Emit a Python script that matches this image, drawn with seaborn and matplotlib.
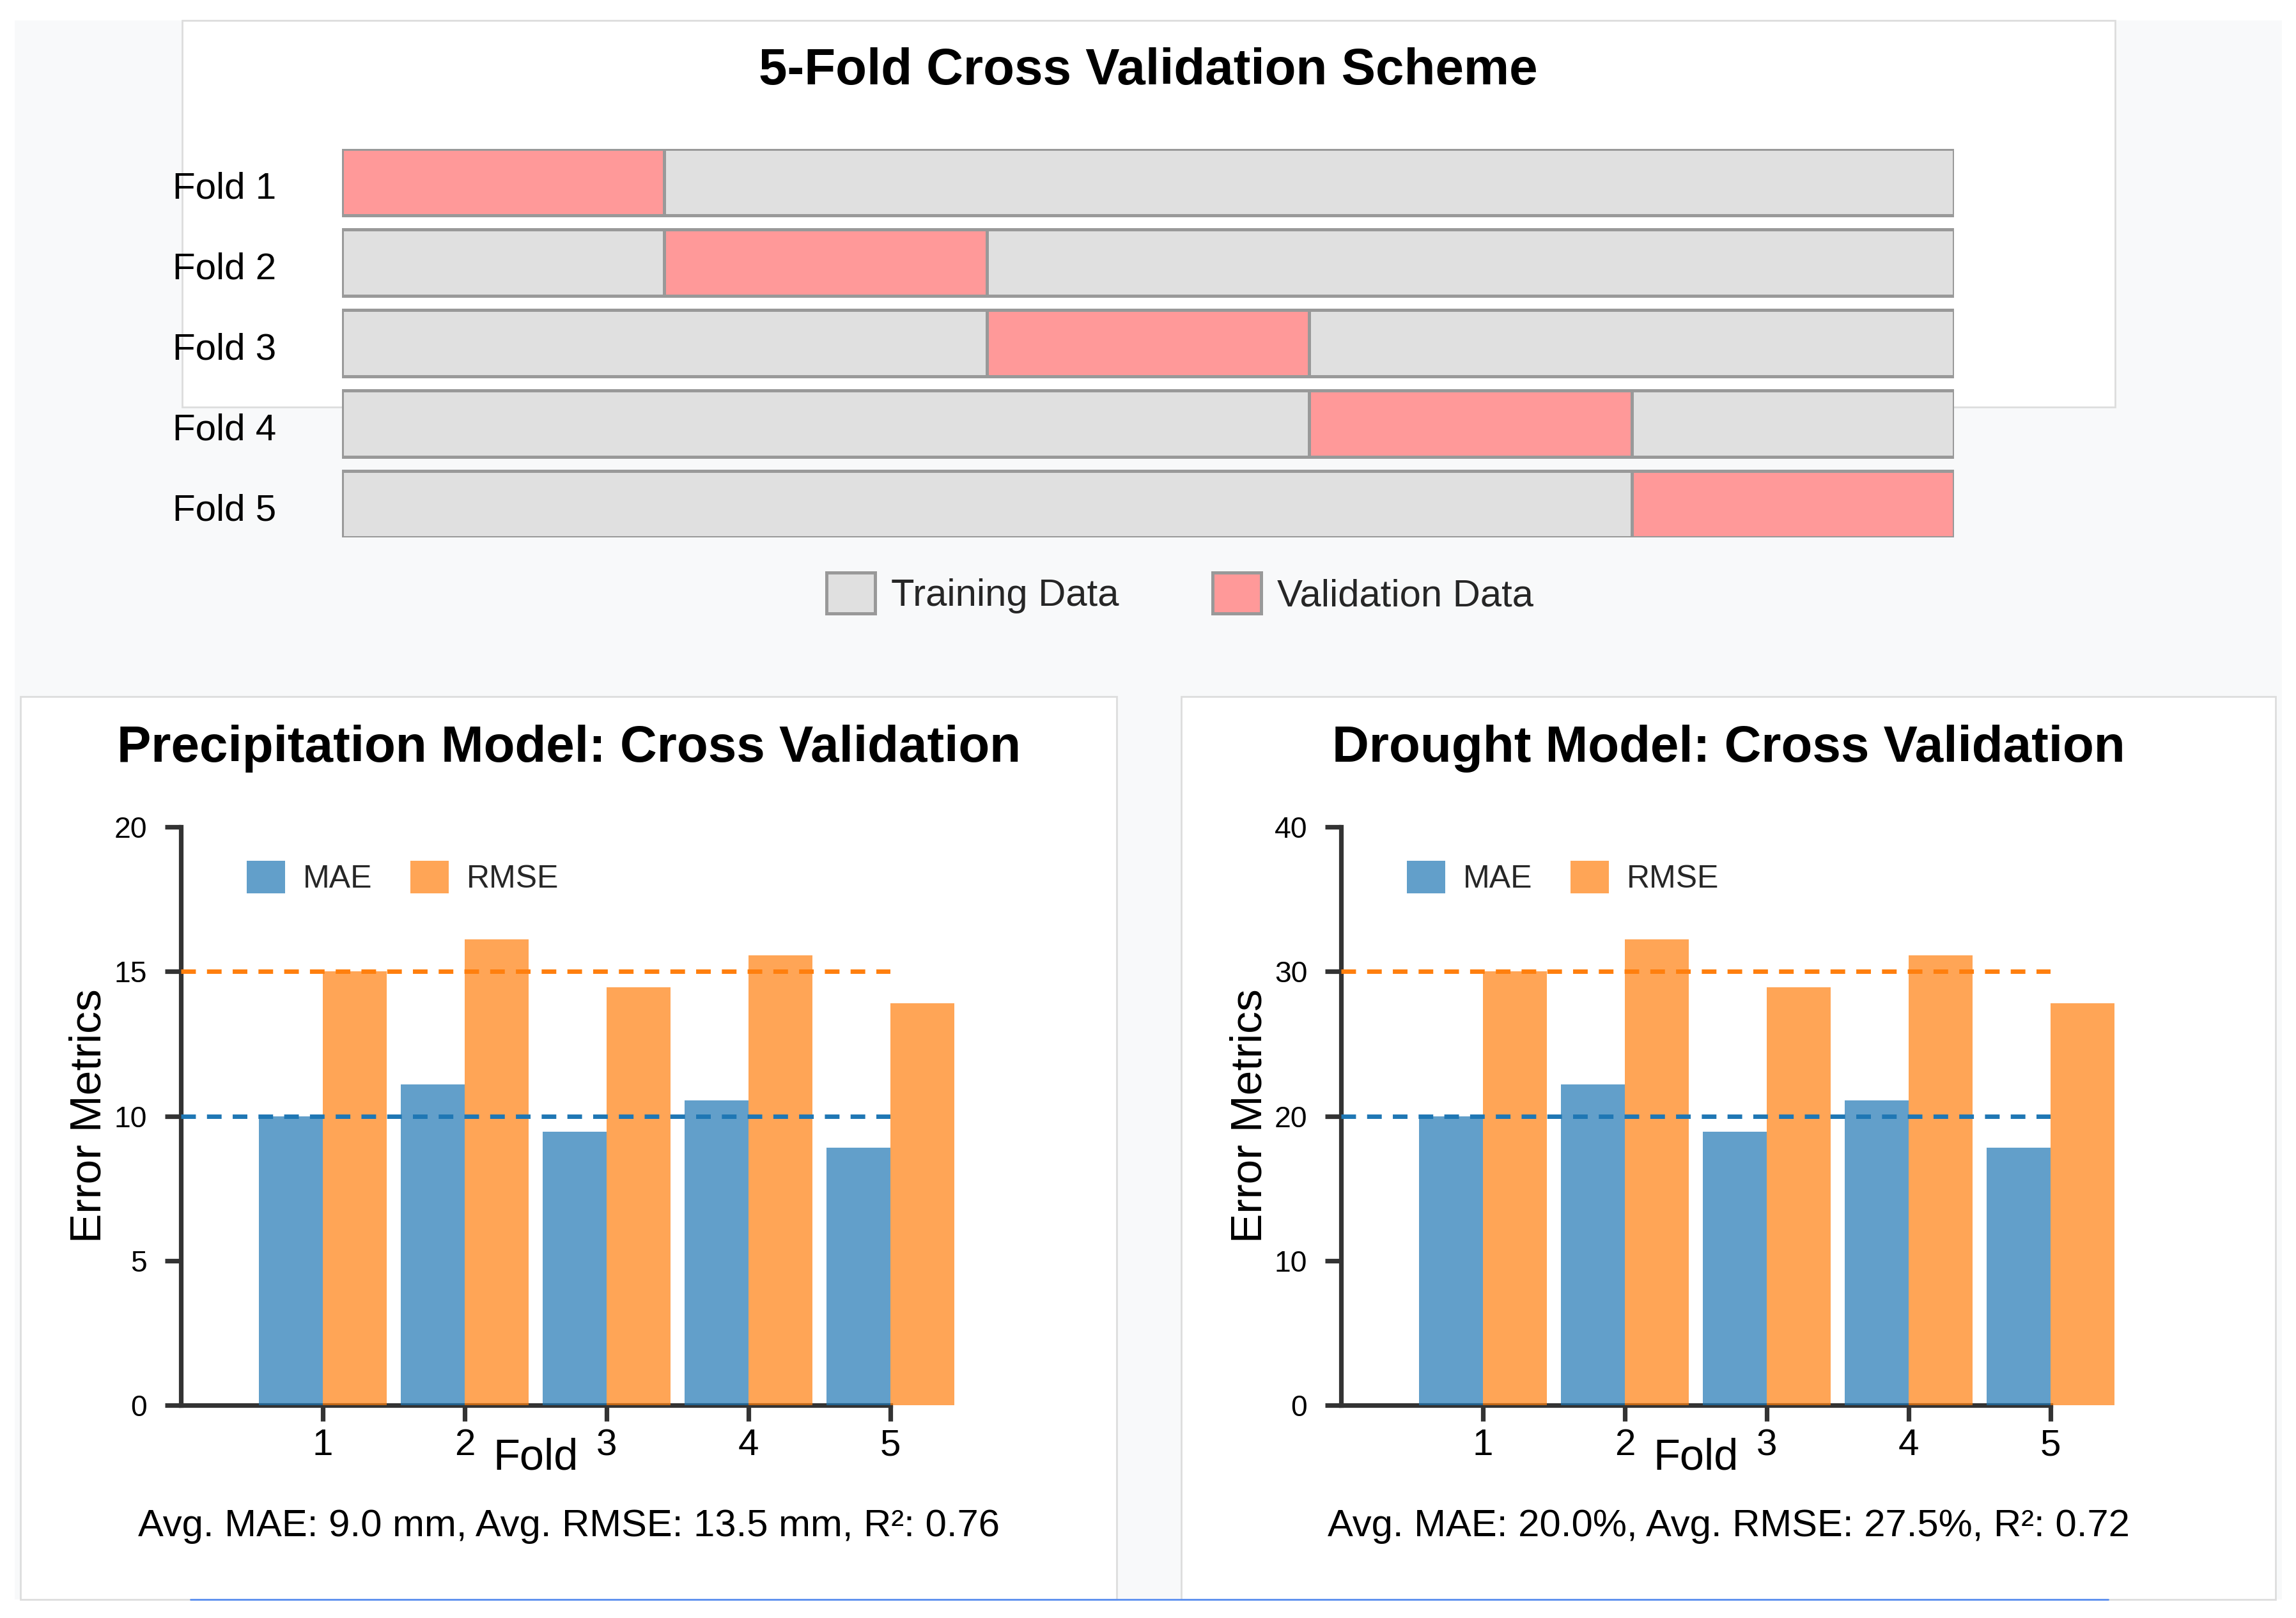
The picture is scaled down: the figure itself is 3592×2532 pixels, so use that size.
import matplotlib
matplotlib.use("Agg")
import matplotlib.pyplot as plt
import seaborn as sns
import pandas as pd
from matplotlib.patches import Rectangle, Patch
from matplotlib.lines import Line2D

# ---------------- data ----------------
fold_names = ["Fold 1", "Fold 2", "Fold 3", "Fold 4", "Fold 5"]
n_segments = 5
validation_start = [0, 1, 2, 3, 4]
scheme_legend = ["Training Data", "Validation Data"]

folds = [1, 2, 3, 4, 5]
metrics = ["MAE", "RMSE"]
precip_mae = [10.0, 11.1, 9.45, 10.55, 8.9]
precip_rmse = [15.0, 16.1, 14.45, 15.55, 13.9]
drought_mae = [20.0, 22.2, 18.9, 21.1, 17.8]
drought_rmse = [30.0, 32.2, 28.9, 31.1, 27.8]
precip_ref = [10, 15]
drought_ref = [20, 30]
precip_yticks = [0, 5, 10, 15, 20]
drought_yticks = [0, 10, 20, 30, 40]

main_title = "5-Fold Cross Validation Scheme"
precip_title = "Precipitation Model: Cross Validation"
drought_title = "Drought Model: Cross Validation"
precip_sub = "Avg. MAE: 9.0 mm, Avg. RMSE: 13.5 mm, R²: 0.76"
drought_sub = "Avg. MAE: 20.0%, Avg. RMSE: 27.5%, R²: 0.72"
xlabel = "Fold"
ylabel = "Error Metrics"

# ---------------- style ----------------
sns.set_theme(style="white")
plt.rcParams["font.family"] = ["Liberation Sans", "DejaVu Sans"]

W, H = 3592, 2532
DPI = 200
fig = plt.figure(figsize=(W / DPI, H / DPI), dpi=DPI, facecolor="white")


def fr(x0, y0, x1, y1):
    return (x0 / W, 1 - y1 / H, (x1 - x0) / W, (y1 - y0) / H)


def add_rect(x0, y0, x1, y1, fc, ec="none", lw=0, z=-10):
    r = Rectangle(fr(x0, y0, x1, y1)[:2], (x1 - x0) / W, (y1 - y0) / H,
                  transform=fig.transFigure, facecolor=fc, edgecolor=ec,
                  linewidth=lw, zorder=z)
    fig.add_artist(r)


# backgrounds
add_rect(23, 32, 3570, 2503, "#f8f9fa", z=-10)
add_rect(285, 32, 3309, 637, "white", "#dddddd", 1.0, z=-9)
add_rect(32, 1090, 1747, 2503, "white", "#dddddd", 1.0, z=-9)
add_rect(1848, 1090, 3560, 2503, "white", "#dddddd", 1.0, z=-9)
fig.add_artist(Line2D([298 / W, 3298 / W], [1 - 2503 / H, 1 - 2503 / H],
                      transform=fig.transFigure, color="#5b8ff0", lw=1.0, zorder=-8))

TRAIN_C = "#e0e0e0"
VAL_C = "#ff9999"
EDGE_C = "#999999"
EDGE_W = 1.8
BAR_H = 0.825

# ---------------- scheme ----------------
ax0 = fig.add_axes(fr(535, 233, 3057, 841))
ax0.set_facecolor("none")
sns.barplot(x=[n_segments] * len(fold_names), y=fold_names, orient="h",
            color=TRAIN_C, saturation=1, width=BAR_H, edgecolor=EDGE_C,
            linewidth=EDGE_W, ax=ax0)
ax0.barh(range(len(fold_names)), 1, left=validation_start, height=BAR_H,
         color=VAL_C, edgecolor=EDGE_C, linewidth=EDGE_W)
ax0.set_xlim(0, n_segments)
ax0.set_ylim(len(fold_names) - 1 + BAR_H / 2, -BAR_H / 2)
for s in ax0.spines.values():
    s.set_visible(False)
ax0.set_xticks([])
ax0.set_yticks([])
ax0.set_xlabel("")
ax0.set_ylabel("")
for i, name in enumerate(fold_names):
    ax0.text(-0.5254, i + 0.2, name, ha="left", va="baseline", fontsize=21,
             color="black", clip_on=False)

fig.text(0.5, 1 - 132 / H, main_title, ha="center", va="baseline",
         fontsize=28.8, fontweight="bold", color="black")

fig.legend(handles=[Patch(facecolor=TRAIN_C, edgecolor=EDGE_C, lw=EDGE_W, label=scheme_legend[0]),
                    Patch(facecolor=VAL_C, edgecolor=EDGE_C, lw=EDGE_W, label=scheme_legend[1])],
           loc="center", bbox_to_anchor=(0.514, 1 - 928 / H), ncol=2, frameon=False,
           fontsize=21.5, handlelength=1.27, handleheight=1.27, handletextpad=0.42,
           columnspacing=2.45, borderpad=0, borderaxespad=0)

# ---------------- bar charts ----------------
BLUE = "#1f77b4"
ORANGE = "#ff7f0e"
palette = {"MAE": BLUE, "RMSE": ORANGE}


def bar_panel(ax, mae, rmse, refs, yticks, title, sub, cx):
    df = pd.DataFrame({
        "fold": folds * 2,
        "metric": ["MAE"] * len(folds) + ["RMSE"] * len(folds),
        "value": list(mae) + list(rmse),
    })
    ax.set_facecolor("none")
    sns.barplot(data=df, x="fold", y="value", hue="metric", native_scale=True,
                palette=palette, saturation=1, alpha=0.7, errorbar=None,
                width=0.9, linewidth=0, ax=ax, legend=False)
    for p in ax.patches:
        p.set_clip_on(False)
        p.set_zorder(3)
    for ref, col in zip(refs, [BLUE, ORANGE]):
        ax.axhline(ref, color=col, lw=2.5, ls=(0, (3.3, 2.5)), zorder=4)
    ax.set_xlim(0, 5)
    ax.set_ylim(yticks[0], yticks[-1])
    ax.set_xticks(folds)
    ax.set_xticklabels([str(f) for f in folds])
    ax.set_yticks(yticks)
    ax.set_yticklabels([str(t) for t in yticks])
    for side in ["top", "right"]:
        ax.spines[side].set_visible(False)
    for side in ["left", "bottom"]:
        ax.spines[side].set_color("#333333")
        ax.spines[side].set_linewidth(2.6)
        ax.spines[side].set_zorder(2)
    ax.tick_params(axis="y", length=9, width=2.6, color="#333333", pad=10,
                   labelsize=16.7, labelcolor="black", left=True)
    ax.tick_params(axis="x", length=9, width=2.6, color="#333333", pad=4,
                   labelsize=21, labelcolor="black", bottom=True)
    ax.set_xlabel(xlabel, fontsize=24.7, va="baseline", color="black")
    ax.xaxis.set_label_coords(0.5, -0.1116)
    ax.set_ylabel(ylabel, fontsize=25, color="black")
    ax.yaxis.set_label_coords(-0.1, 0.5)
    ax.legend(handles=[Patch(facecolor=BLUE, alpha=0.7, lw=0, label=metrics[0]),
                       Patch(facecolor=ORANGE, alpha=0.7, lw=0, label=metrics[1])],
              loc="center left", bbox_to_anchor=(0.0928, 0.9127), ncol=2,
              frameon=False, fontsize=18, handlelength=1.2, handleheight=1.2,
              handletextpad=0.56, columnspacing=1.18, borderpad=0, borderaxespad=0)
    fig.text(cx, 1 - 1192 / H, title, ha="center", va="baseline",
             fontsize=28.8, fontweight="bold", color="black")
    fig.text(cx, 1 - 2404 / H, sub, ha="center", va="baseline",
             fontsize=21.5, color="black")


axL = fig.add_axes(fr(283, 1294, 1393, 2199))
bar_panel(axL, precip_mae, precip_rmse, precip_ref, precip_yticks,
          precip_title, precip_sub, 890 / W)
axR = fig.add_axes(fr(2098, 1294, 3208, 2199))
bar_panel(axR, drought_mae, drought_rmse, drought_ref, drought_yticks,
          drought_title, drought_sub, 2704 / W)

fig.savefig("out.png", dpi=DPI, facecolor="white")
